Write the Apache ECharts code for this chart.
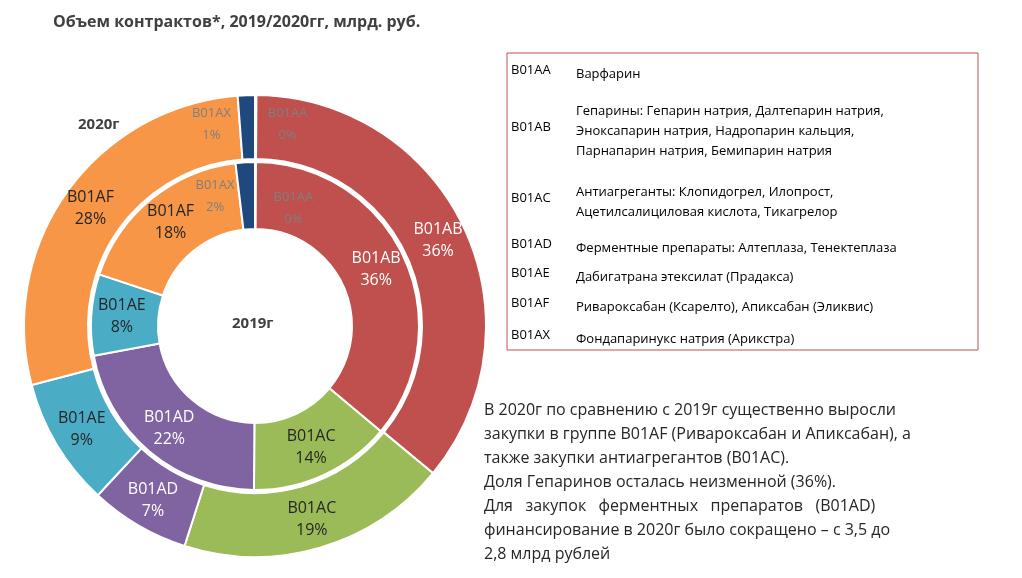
<!DOCTYPE html>
<html><head><meta charset="utf-8">
<script src="https://cdn.jsdelivr.net/npm/echarts@6/dist/echarts.min.js"></script>
<style>html,body{margin:0;padding:0;background:#fff}#c{width:1022px;height:578px}</style>
</head><body><div id="c"></div>
<script>
var codes = ['B01AA', 'B01AB', 'B01AC', 'B01AD', 'B01AE', 'B01AF', 'B01AX'];
var shown2020 = [0, 36, 19, 7, 9, 28, 1];
var shown2019 = [0, 36, 14, 22, 8, 18, 2];
// drawn shares (tiny slices get a visible width)
var values2020 = [0.1, 36, 19, 7, 9, 28, 1.2];
var values2019 = [0.1, 36, 14, 22, 8, 18, 1.9];
var colors = ['#C0504D', '#C0504D', '#9BBB59', '#8064A2', '#4BACC6', '#F79646', '#1F497D'];
var descriptions = [
    ['Варфарин'],
    ['Гепарины: Гепарин натрия, Далтепарин натрия,', 'Эноксапарин натрия, Надропарин кальция,', 'Парнапарин натрия, Бемипарин натрия'],
    ['Антиагреганты: Клопидогрел, Илопрост,', 'Ацетилсалициловая кислота, Тикагрелор'],
    ['Ферментные препараты: Алтеплаза, Тенектеплаза'],
    ['Дабигатрана этексилат (Прадакса)'],
    ['Ривароксабан (Ксарелто), Апиксабан (Эликвис)'],
    ['Фондапаринукс натрия (Арикстра)']
];
var legendY = [72, 129, 200, 246, 275, 305, 337];
var whiteCodes = ['B01AB', 'B01AD'];

function buildData(vals, shown, offsets) {
    return vals.map(function(v, i) {
        var small = (i === 0 || i === 6);
        return {
            value: v, name: codes[i], shown: shown[i],
            itemStyle: { color: colors[i] },
            label: small ? {
                color: '#7f7f7f', fontSize: 13, offset: offsets[i]
            } : {
                color: whiteCodes.indexOf(codes[i]) >= 0 ? '#fff' : '#262626', fontSize: 16
            }
        };
    });
}
var fmt = function(p) { return p.name + '\n' + p.data.shown + '%'; };

var graphics = [
    { type: 'text', left: 53, top: 14, style: { text: 'Объем контрактов*, 2019/2020гг, млрд. руб.', font: 'bold 16px "Open Sans"', fill: '#404040' } },
    { type: 'text', left: 78, top: 117, style: { text: '2020г', font: 'bold 15px "Open Sans"', fill: '#404040' } },
    { type: 'text', left: 232, top: 316, style: { text: '2019г', font: 'bold 15px "Open Sans"', fill: '#404040' } },
    { type: 'rect', shape: { x: 507, y: 53, width: 471, height: 297 }, style: { fill: 'none', stroke: '#C0504D', lineWidth: 1 } }
];
codes.forEach(function(c, i) {
    var lines = descriptions[i];
    graphics.push({ type: 'text', left: 511, top: legendY[i] - 8, style: { text: c, font: '13px "Open Sans"', fill: '#000' } });
    graphics.push({ type: 'text', left: 576, top: legendY[i] - 8 - (lines.length - 1) * 10, style: { text: lines.join('\n'), font: '13px "Open Sans"', fill: '#000', lineHeight: 20 } });
});
var note = ['В 2020г по сравнению с 2019г существенно выросли', 'закупки в группе B01AF (Ривароксабан и Апиксабан), а',
    'также закупки антиагрегантов (B01AC).', 'Доля Гепаринов осталась неизменной (36%).',
    'Для   закупок   ферментных   препаратов   (B01AD)', 'финансирование в 2020г было сокращено – с 3,5 до', '2,8 млрд рублей'];
graphics.push({ type: 'text', left: 484, top: 398, style: { text: note.join('\n'), font: '16px "Open Sans"', fill: '#262626', lineHeight: 24 } });

var chart = echarts.init(document.getElementById('c'));
chart.setOption({
    animation: false,
    graphic: graphics,
    series: [{
        type: 'pie', center: [255, 326], radius: [167, 231], startAngle: 90, clockwise: true,
        label: { position: 'inside', formatter: fmt, fontFamily: 'Open Sans', lineHeight: 22 },
        itemStyle: { borderColor: '#fff', borderWidth: 2 },
        data: buildData(values2020, shown2020, [[32, 0], 0, 0, 0, 0, 0, [-36, 0]])
    }, {
        type: 'pie', center: [255, 326], radius: [97, 164], startAngle: 90, clockwise: true,
        label: { position: 'inside', formatter: fmt, fontFamily: 'Open Sans', lineHeight: 22 },
        itemStyle: { borderColor: '#fff', borderWidth: 2 },
        data: buildData(values2019, shown2019, [[38, 16], 0, 0, 0, 0, 0, [-32, 4]])
    }]
});
</script></body></html>
